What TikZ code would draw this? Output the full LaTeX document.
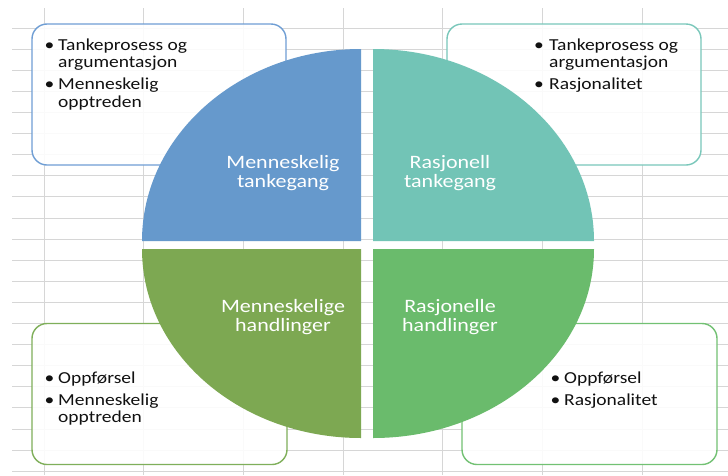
\documentclass[tikz,border=0pt]{standalone}
\usepackage{fontspec}
\setmainfont{Carlito}
\definecolor{qblue}{HTML}{6699CC}
\definecolor{qteal}{HTML}{72C4B6}
\definecolor{qolive}{HTML}{7DA852}
\definecolor{qgreen}{HTML}{6ABB6C}
\definecolor{bdblue}{HTML}{6F9ED4}
\definecolor{bdteal}{HTML}{79C7BA}
\definecolor{bdolive}{HTML}{7FAF5A}
\definecolor{bdgreen}{HTML}{72C173}
\definecolor{gridc}{HTML}{D6D6D6}
\definecolor{txt}{HTML}{111111}
\newcommand\bitem[1]{\makebox[13.5pt][l]{•}#1}
\newcommand\cont[1]{\hspace*{13.5pt}#1}
\newcommand\sq[1]{\scalebox{1}[0.86]{#1}}
\begin{document}
\begin{tikzpicture}[x=1pt,y=-1pt,
  gridline/.style={draw=gridc,line width=1pt},
  box/.style={rounded corners=15pt,line width=1.4pt,fill=white,fill opacity=0.88,text opacity=1,
    inner sep=0pt,minimum width=254pt,minimum height=141pt},
  btext/.style={inner sep=0pt,text=txt,font=\fontsize{19.5}{20}\selectfont,anchor=base west},
  qtext/.style={inner sep=0pt,text=white,font=\fontsize{22}{22.1}\selectfont,anchor=base}]
\useasboundingbox (0,0) rectangle (728,475);
\fill[white] (0,0) rectangle (728,475);
% spreadsheet grid
\foreach \k in {1,...,22} \draw[gridline] (12,{7+21.1*\k}) -- (728,{7+21.1*\k});
\foreach \k in {0,...,6} \draw[gridline] ({44+99.7*\k},8) -- ({44+99.7*\k},475);
% corner boxes
\node[box,draw=bdblue]  (tlbox) at (159,94.5) {};
\node[box,draw=bdteal]  (trbox) at (574,94.5) {};
\node[box,draw=bdolive,minimum width=255pt] (blbox) at (159.5,394) {};
\node[box,draw=bdgreen,minimum width=255pt] (brbox) at (589.5,394) {};
% quadrants
\fill[qblue]  (361,241) -- (142,241) arc[start angle=180,end angle=270,x radius=219,y radius=192] -- cycle;
\fill[qteal]  (373,241) -- (373,49) arc[start angle=270,end angle=360,x radius=221,y radius=192] -- cycle;
\fill[qolive] (361,249) -- (361,438) arc[start angle=90,end angle=180,x radius=219,y radius=189] -- cycle;
\fill[qgreen] (373,249) -- (594,249) arc[start angle=0,end angle=90,x radius=221,y radius=189] -- cycle;
% quadrant labels
\node[qtext] (q1) at (283,168) {\sq{\begin{tabular}[t]{@{}c@{}}Menneskelig\\tankegang\end{tabular}}};
\node[qtext] (q2) at (450,168) {\sq{\begin{tabular}[t]{@{}c@{}}Rasjonell\\tankegang\end{tabular}}};
\node[qtext] (q3) at (283,312) {\sq{\begin{tabular}[t]{@{}c@{}}Menneskelige\\handlinger\end{tabular}}};
\node[qtext] (q4) at (450,312) {\sq{\begin{tabular}[t]{@{}c@{}}Rasjonelle\\handlinger\end{tabular}}};
% box texts
\node[btext] (tltext) at (44.5,50) {\sq{\begin{tabular}[t]{@{}l@{}}\bitem{Tankeprosess og}\\\cont{argumentasjon}\\[6.5pt]\bitem{Menneskelig}\\\cont{opptreden}\end{tabular}}};
\node[btext] (trtext) at (534,50) {\sq{\begin{tabular}[t]{@{}l@{}}\makebox[15pt][l]{•}Tankeprosess og\\\hspace*{15pt}argumentasjon\\[6.5pt]\makebox[15pt][l]{•}Rasjonalitet\end{tabular}}};
\node[btext] (bltext) at (44.5,383) {\sq{\begin{tabular}[t]{@{}l@{}}\bitem{Oppførsel}\\[6.5pt]\bitem{Menneskelig}\\\cont{opptreden}\end{tabular}}};
\node[btext] (brtext) at (550.5,383) {\sq{\begin{tabular}[t]{@{}l@{}}\bitem{Oppførsel}\\[6.5pt]\bitem{Rasjonalitet}\end{tabular}}};
\end{tikzpicture}
\end{document}
